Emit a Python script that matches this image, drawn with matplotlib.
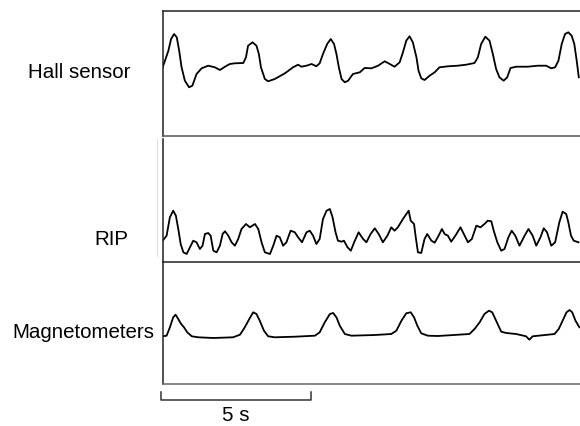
"""
Three stacked physiological traces (Hall sensor, RIP, magnetometers)
with a 5 s time scale bar, traced from a scanned figure.
"""
import matplotlib.pyplot as plt
from matplotlib import font_manager

# Time axis in seconds, amplitudes in arbitrary units
hall_t = [0.00, 0.19, 0.28, 0.38, 0.47, 0.55, 0.63, 0.74, 0.88, 0.99, 1.13, 1.30,
          1.52, 1.74, 1.91, 2.08, 2.24, 2.41, 2.69, 2.78, 2.85, 3.00, 3.13, 3.21,
          3.28, 3.41, 3.52, 3.74, 4.08, 4.35, 4.52, 4.63, 4.80, 4.97, 5.13, 5.24,
          5.35, 5.49, 5.61, 5.72, 5.80, 5.88, 5.97, 6.08, 6.19, 6.35, 6.58, 6.74,
          6.97, 7.19, 7.41, 7.58, 7.74, 7.91, 8.02, 8.13, 8.24, 8.35, 8.47, 8.54,
          8.63, 8.74, 8.91, 9.08, 9.24, 9.52, 9.85, 10.13, 10.41, 10.52, 10.63, 10.77,
          10.91, 11.02, 11.13, 11.24, 11.38, 11.50, 11.61, 11.80, 12.19, 12.52, 12.80,
          12.97, 13.10, 13.21, 13.32, 13.43, 13.54, 13.65, 13.74, 13.82, 13.89]
hall_v = [0.00, 1.66, 2.83, 3.33, 3.00, 1.66, 0.00, -1.34, -2.00, -1.84, -0.67, -0.10,
          0.16, 0.00, -0.27, 0.06, 0.33, 0.40, 0.43, 1.00, 2.16, 2.50, 2.16, 1.33,
          0.00, -1.17, -1.40, -1.17, -0.60, 0.00, 0.26, 0.06, 0.16, 0.33, 0.10, 0.40,
          1.33, 2.33, 2.83, 2.33, 1.33, 0.00, -1.17, -1.50, -1.34, -0.67, -0.50, -0.07,
          -0.10, 0.16, 0.60, 0.33, 0.06, 0.50, 1.50, 2.66, 3.10, 2.50, 1.00, -0.34,
          -1.10, -1.27, -0.84, -0.50, 0.00, 0.10, 0.16, 0.26, 0.43, 1.00, 2.33, 3.06,
          2.66, 1.33, -0.17, -1.00, -1.34, -1.00, -0.07, 0.06, 0.06, 0.16, 0.16,
          -0.10, 0.00, 0.66, 2.33, 3.33, 3.50, 3.16, 2.33, 0.66, -1.00]

rip_t = [0.00, 0.13, 0.24, 0.35, 0.44, 0.52, 0.60, 0.69, 0.80, 0.91, 1.02, 1.13,
         1.24, 1.33, 1.41, 1.52, 1.60, 1.69, 1.80, 1.91, 2.00, 2.08, 2.19, 2.30,
         2.41, 2.52, 2.63, 2.78, 2.91, 3.08, 3.19, 3.30, 3.41, 3.58, 3.69, 3.80,
         3.91, 4.02, 4.13, 4.27, 4.41, 4.52, 4.65, 4.80, 4.91, 5.02, 5.13, 5.24,
         5.35, 5.47, 5.58, 5.67, 5.77, 5.85, 5.97, 6.05, 6.17, 6.28, 6.39, 6.54,
         6.69, 6.80, 6.94, 7.08, 7.21, 7.35, 7.50, 7.63, 7.74, 7.85, 8.02, 8.21,
         8.28, 8.39, 8.44, 8.52, 8.63, 8.74, 8.83, 8.97, 9.08, 9.21, 9.32, 9.41,
         9.52, 9.63, 9.77, 9.94, 10.08, 10.19, 10.32, 10.47, 10.61, 10.74, 10.85,
         10.97, 11.05, 11.17, 11.30, 11.41, 11.54, 11.65, 11.77, 11.91, 12.08, 12.21,
         12.35, 12.47, 12.61, 12.72, 12.83, 12.97, 13.10, 13.24, 13.35, 13.47, 13.54,
         13.63, 13.72, 13.88]
rip_v = [0.00, 0.50, 2.34, 3.00, 2.50, 1.17, -0.33, -1.16, -1.33, -0.66, 0.00, -0.16,
         -0.83, -0.50, 0.67, 0.77, 0.50, -1.00, -1.16, -0.50, 0.67, 0.94, 0.50, -0.16,
         -0.50, 0.17, 1.17, 1.67, 1.34, 1.67, 1.17, -0.16, -1.16, -1.33, -0.50, 0.50,
         0.34, -0.50, -0.16, 1.00, 0.84, 0.34, -0.16, 0.84, 1.00, 0.50, -0.33, 0.17,
         2.17, 3.00, 3.17, 2.34, 0.84, 0.00, -0.10, 0.00, -0.66, -1.00, -0.16, 0.84,
         0.17, -0.16, 0.67, 1.24, 0.67, -0.16, 0.50, 1.34, 1.00, 1.34, 2.17, 3.00,
         2.00, 1.67, 0.50, -1.16, -1.23, 0.17, 0.67, 0.00, -0.20, 0.50, 1.17, 0.67,
         0.50, -0.10, 0.50, 1.34, 0.50, -0.16, 0.17, 1.50, 1.34, 1.67, 2.00,
         1.94, 1.00, -0.16, -1.00, -0.83, 0.34, 1.00, 0.50, -0.50, 0.50, 1.17,
         0.50, -0.50, 0.34, 1.24, 0.84, -0.50, -0.16, 1.84, 2.90, 2.67, 1.84,
         0.50, 0.00, -0.16]

mag_t = [0.00, 0.13, 0.24, 0.35, 0.43, 0.52, 0.60, 0.71, 0.82, 0.97, 1.19, 1.69,
         2.35, 2.58, 2.74, 2.89, 3.02, 3.13, 3.24, 3.38, 3.52, 3.74, 4.41, 5.08,
         5.24, 5.41, 5.58, 5.69, 5.80, 5.91, 6.08, 6.30, 7.08, 7.63, 7.80, 7.97,
         8.13, 8.28, 8.39, 8.50, 8.63, 8.85, 9.19, 10.24, 10.41, 10.58, 10.74, 10.89,
         11.00, 11.13, 11.30, 11.47, 11.80, 12.13, 12.24, 12.35, 13.08, 13.22, 13.35,
         13.48, 13.58, 13.67, 13.78, 13.91]
mag_v = [-0.06, 0.00, 0.84, 1.84, 2.10, 1.67, 1.24, 0.84, 0.34, -0.06, -0.16, -0.23,
         -0.16, 0.10, 0.84, 1.67, 2.34, 2.17, 1.50, 0.50, -0.06, -0.16, -0.10, 0.00,
         0.34, 1.34, 2.17, 2.27, 1.84, 1.00, 0.17, 0.00, 0.07, 0.17, 0.50, 1.50,
         2.24, 2.34, 1.84, 1.00, 0.24, 0.00, -0.03, 0.17, 0.67, 1.34, 2.17, 2.50,
         2.34, 1.50, 0.40, 0.27, 0.17, -0.06, -0.40, -0.06, 0.17, 0.67, 1.50,
         2.34, 2.57, 2.34, 1.50, 0.84]

labels = ['Hall sensor', 'RIP', 'Magnetometers']
scale_seconds = 5

# pick a narrow sans if present (the original lettering is condensed)
names = {f.name for f in font_manager.fontManager.ttflist}
if 'Liberation Sans Narrow' in names:
    font = 'Liberation Sans Narrow'
    fsize = 16.5
else:
    font = 'Liberation Sans'
    fsize = 14.8
plt.rcParams['font.family'] = [font, 'DejaVu Sans']

W, H = 580, 427
fig = plt.figure(figsize=(W / 100, H / 100), dpi=100)


def panel(top, bottom):
    # top/bottom in pixels from the top of the image
    ax = fig.add_axes([162.7 / W, 1 - bottom / H, 1 - 162.7 / W, (bottom - top) / H])
    ax.set_xticks([])
    ax.set_yticks([])
    ax.set_xlim(0, 13.93)
    ax.patch.set_alpha(0)
    for s in ax.spines.values():
        s.set_linewidth(1.1)
        s.set_color('#222222')
    ax.spines['right'].set_visible(False)
    return ax


trace_style = dict(color='black', lw=1.3, solid_joinstyle='round')

ax1 = panel(11.7, 136.7)
ax1.spines['bottom'].set_color('#555555')
ax1.plot(hall_t, hall_v, **trace_style)
ax1.set_ylim(-6.84, 5.66)

ax2 = panel(140, 262.7)
ax2.spines['top'].set_visible(False)
ax2.plot(rip_t, rip_v, **trace_style)
ax2.set_ylim(-2.10, 10.17)

ax3 = panel(262.7, 385)
ax3.spines['top'].set_visible(False)
ax3.spines['bottom'].set_color('#666666')
ax3.plot(mag_t, mag_v, **trace_style)
ax3.set_ylim(-4.83, 7.40)

# faint scanning artefact next to the RIP frame
fig.add_artist(plt.Line2D([157 / W, 157 / W], [1 - 140 / H, 1 - 257 / H],
                          color='#dddddd', lw=0.8))

# trace labels
fig.text(131 / W, 1 - 73 / H, labels[0], ha='right', va='center', fontsize=fsize)
fig.text(128 / W, 1 - 240 / H, labels[1], ha='right', va='center', fontsize=fsize)
fig.text(154 / W, 1 - 333 / H, labels[2], ha='right', va='center', fontsize=fsize)

# 5 s scale bar under the bottom panel
ax3.plot([-0.06, -0.06, scale_seconds - 0.06, scale_seconds - 0.06],
         [-5.6, -6.4, -6.4, -5.6], color='#333333', lw=1.1, clip_on=False)
ax3.text(scale_seconds / 2 - 0.05, -7.85, f'{scale_seconds} s', ha='center',
         va='center', fontsize=fsize)

fig.savefig('out.png', dpi=100)
